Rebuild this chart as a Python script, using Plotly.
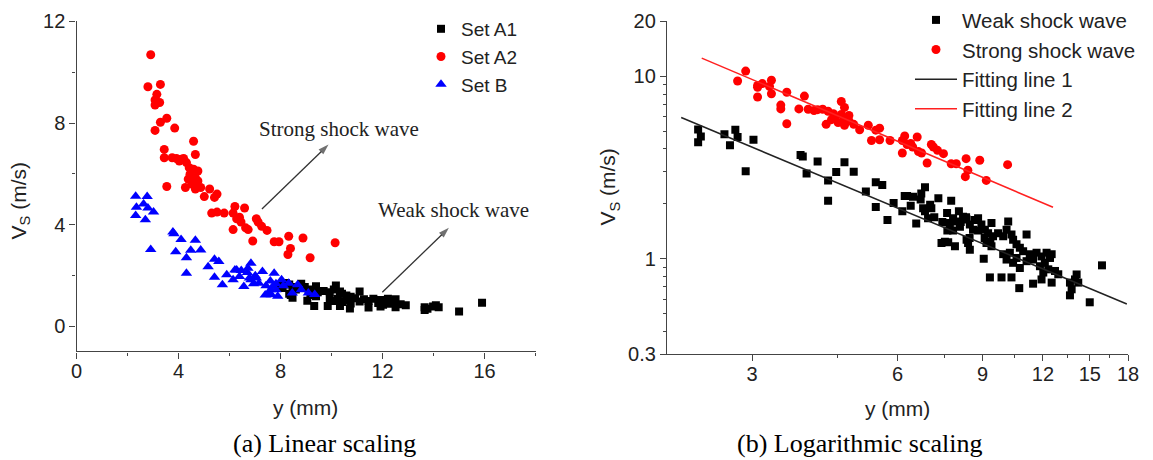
import plotly.graph_objects as go

# ---------------- data (y in mm, Vs in m/s) ----------------
# Set A1 : black squares (weak shock wave, far field)
a1_y = [7.95, 8.08, 8.20, 8.34, 8.34, 8.40, 8.47, 8.47, 8.60, 8.81, 8.95, 9.05, 9.10, 9.17, 9.24,
        9.32, 9.39, 9.39, 9.46, 9.69, 9.85, 9.93, 9.93, 10.09, 10.09, 10.17, 10.25, 10.33, 10.33,
        10.41, 10.41, 10.58, 10.58, 10.72, 10.75, 10.75, 10.92, 11.10, 11.10, 11.27, 11.45, 11.45,
        11.64, 11.83, 11.92, 11.92, 12.02, 12.11, 12.21, 12.31, 12.41, 12.51, 12.51, 12.71, 12.91,
        13.65, 13.76, 13.65, 13.98, 14.09, 14.20, 15.0, 15.9]
a1_v = [1.60, 1.50, 1.70, 1.64, 1.27, 1.22, 1.54, 1.12, 1.44, 1.67, 1.54, 1.00, 1.44, 1.22, 1.38,
        0.79, 1.57, 1.17, 1.33, 1.38, 0.79, 1.33, 1.06, 1.44, 0.99, 1.60, 1.08, 1.36, 0.79,
        1.27, 0.95, 1.20, 1.01, 0.69, 1.15, 0.89, 1.10, 1.36, 0.97, 1.06, 0.99, 0.73,
        1.08, 0.91, 1.03, 0.77, 0.84, 0.95, 1.08, 0.875, 1.01, 1.06, 0.74, 0.857, 0.822,
        0.74, 0.68, 0.63, 0.77, 0.82, 0.74, 0.577, 0.92]

# Set A2 : red circles (strong shock wave)
a2_y = [2.91, 2.80, 3.29, 3.15, 3.08, 3.26, 3.08, 3.29, 3.54, 3.08, 3.85, 3.44, 3.44, 4.59, 4.66,
        3.75, 3.92, 4.03, 4.20, 4.31, 4.42, 4.59, 4.76, 4.45, 4.66, 4.38, 4.76, 3.54, 4.27, 4.66,
        4.87, 5.01, 5.22, 5.41, 5.51, 5.30, 5.51, 5.79, 6.21, 6.59, 6.14, 6.39, 6.45, 6.14, 6.63,
        6.73, 7.05, 7.12, 7.26, 7.47, 6.91, 7.75, 7.94, 8.32, 8.39, 8.29, 8.88, 9.16, 10.14, 6.28,
        4.10, 4.52]
a2_v = [10.69, 9.43, 9.52, 9.13, 8.91, 8.81, 8.71, 8.03, 8.19, 7.71, 7.80, 6.96, 6.63, 7.28, 6.76,
        6.63, 6.60, 6.50, 6.60, 6.44, 6.24, 6.18, 6.11, 5.98, 5.85, 5.79, 5.72, 5.50, 5.46, 5.40,
        5.46, 5.10, 5.40, 5.07, 5.20, 4.45, 4.49, 4.45, 4.71, 4.65, 4.45, 4.29, 4.10, 3.80, 3.87,
        3.80, 4.23, 4.10, 3.93, 3.77, 3.35, 3.32, 3.32, 3.54, 3.06, 2.82, 3.47, 2.69, 3.28, 4.23,
        6.57, 5.59]

# Set B : blue triangles (weak shock wave, near field)
b_y = [2.32, 2.77, 2.63, 2.35, 2.80, 2.32, 2.70, 3.02, 2.91, 3.78, 3.82, 4.10, 3.89, 4.31, 4.31,
       4.48, 4.66, 4.87, 5.16, 5.41, 5.58, 5.41, 5.72, 5.89, 6.14, 6.28, 6.39, 6.56, 6.70, 6.84,
       6.84, 7.01, 7.29, 7.43, 7.52, 7.75, 7.82, 7.89, 8.11, 8.32, 8.46, 8.67, 8.81, 9.09, 9.34,
       6.21, 7.15, 8.04, 7.61, 6.46, 6.72, 6.78, 6.94, 7.05, 7.60, 7.70, 7.82, 7.40, 7.64]
b_v = [5.11, 5.10, 4.81, 4.68, 4.65, 4.36, 4.19, 4.49, 3.02, 3.71, 3.64, 3.41, 2.93, 2.69, 2.08,
       2.99, 3.38, 3.00, 2.34, 2.63, 2.54, 1.92, 1.63, 2.02, 1.82, 2.21, 1.95, 1.56, 2.11, 2.47,
       1.82, 1.98, 2.15, 1.59, 1.24, 2.08, 1.43, 1.17, 1.59, 1.69, 1.30, 1.63, 1.43, 1.30, 1.24,
       2.21, 1.69, 1.82, 1.43, 2.19, 2.28, 1.89, 1.67, 1.89, 1.78, 1.57, 1.67, 1.22, 1.23]

# Fitting lines (end points)
fit1_y = [2.14, 17.9]
fit1_v = [5.95, 0.565]
fit2_y = [2.36, 12.59]
fit2_v = [12.6, 1.915]

# Pointer arrows in panel (a): tail -> head
arrow_strong_y = [7.27, 9.88]
arrow_strong_v = [4.61, 7.15]
arrow_weak_y = [11.99, 14.6]
arrow_weak_v = [1.33, 3.87]

weak_y = a1_y + b_y
weak_v = a1_v + b_v

# ---------------- figure ----------------
W, H = 1153, 460
SANS = "Liberation Sans, Arial, sans-serif"
SERIF = "Liberation Serif, Times New Roman, serif"
TXT = "#222222"
AX = "#444444"

fig = go.Figure()

fig.add_trace(go.Scatter(x=a1_y, y=a1_v, mode="markers", name="Set A1",
                         marker=dict(symbol="square", size=8, color="black"),
                         xaxis="x", yaxis="y", legend="legend"))
fig.add_trace(go.Scatter(x=a2_y, y=a2_v, mode="markers", name="Set A2",
                         marker=dict(symbol="circle", size=9, color="#ff0000"),
                         xaxis="x", yaxis="y", legend="legend"))
fig.add_trace(go.Scatter(x=b_y, y=b_v, mode="markers", name="Set B",
                         marker=dict(symbol="triangle-up", size=10, color="#0000ff"),
                         xaxis="x", yaxis="y", legend="legend"))

for ax_, av_ in [(arrow_strong_y, arrow_strong_v), (arrow_weak_y, arrow_weak_v)]:
    fig.add_trace(go.Scatter(x=ax_, y=av_, mode="lines+markers", showlegend=False,
                             line=dict(color="#333333", width=1.3),
                             marker=dict(symbol="arrow", size=[0, 11], color="#333333",
                                         angleref="previous", line=dict(width=0)),
                             hoverinfo="skip", xaxis="x", yaxis="y"))

fig.add_trace(go.Scatter(x=weak_y, y=weak_v, mode="markers", name="Weak shock wave",
                         marker=dict(symbol="square", size=8, color="black"),
                         xaxis="x2", yaxis="y2", legend="legend2"))
fig.add_trace(go.Scatter(x=a2_y, y=a2_v, mode="markers", name="Strong shock wave",
                         marker=dict(symbol="circle", size=9, color="#ff0000"),
                         xaxis="x2", yaxis="y2", legend="legend2"))
fig.add_trace(go.Scatter(x=fit1_y, y=fit1_v, mode="lines", name="Fitting line 1",
                         line=dict(color="#222222", width=1.5),
                         xaxis="x2", yaxis="y2", legend="legend2"))
fig.add_trace(go.Scatter(x=fit2_y, y=fit2_v, mode="lines", name="Fitting line 2",
                         line=dict(color="#ff2020", width=1.5),
                         xaxis="x2", yaxis="y2", legend="legend2"))

axis_common = dict(showline=True, linecolor=AX, linewidth=1.3, mirror=False,
                   showgrid=False, zeroline=False, ticks="outside", ticklen=6,
                   tickwidth=1.2, tickcolor=AX, automargin=False,
                   tickfont=dict(family=SANS, size=20, color=TXT))

fig.update_layout(
    width=W, height=H,
    margin=dict(l=0, r=0, t=0, b=0),
    paper_bgcolor="white", plot_bgcolor="white",
    xaxis=dict(domain=[76.5 / W, 535.6 / W], range=[0, 18], tick0=0, dtick=4,
               minor=dict(dtick=2, ticks="outside", ticklen=3, tickcolor=AX),
               ticklabelstandoff=-5, anchor="y", **axis_common),
    yaxis=dict(domain=[1 - 350 / H, 1 - 15.7 / H], range=[-1, 12], tick0=0, dtick=4,
               minor=dict(tick0=0, dtick=2, ticks="outside", ticklen=3, tickcolor=AX),
               anchor="x", **axis_common),
    xaxis2=dict(domain=[667 / W, 1128 / W], type="log", range=[0.30103, 1.25527],
                tickmode="array", tickvals=[3, 6, 9, 12, 15, 18],
                ticktext=["3", "6", "9", "12", "15", "18"],
                minor=dict(tickmode="array", tickvals=[4.5, 7.5, 10.5, 13.5, 16.5],
                           ticks="outside", ticklen=3, tickcolor=AX),
                ticklabelstandoff=-4, anchor="y2", **axis_common),
    yaxis2=dict(domain=[1 - 352.7 / H, 1 - 15.7 / H], type="log", range=[-0.52288, 1.30103],
                tickmode="array", tickvals=[0.3, 1, 10, 20], ticktext=["0.3", "1", "10", "20"],
                minor=dict(tickmode="array",
                           tickvals=[0.4, 0.5, 0.6, 0.7, 0.8, 0.9, 2, 3, 4, 5, 6, 7, 8, 9],
                           ticks="outside", ticklen=3, tickcolor=AX),
                anchor="x2", **axis_common),
    legend=dict(x=421 / W, y=1 - 4 / H, xanchor="left", yanchor="top",
                bgcolor="rgba(0,0,0,0)", font=dict(family=SANS, size=19, color=TXT),
                itemwidth=30),
    legend2=dict(x=910 / W, y=1 + 6 / H, xanchor="left", yanchor="top",
                 bgcolor="rgba(0,0,0,0)", font=dict(family=SANS, size=20.5, color=TXT),
                 itemwidth=42),
    showlegend=True,
)

ann = []
# axis titles
ann.append(dict(text="V<sub>S</sub> (m/s)", x=20 / W, y=1 - 198 / H, xref="paper", yref="paper",
                xanchor="center", yanchor="middle",
                textangle=-90, showarrow=False, font=dict(family=SANS, size=21, color=TXT)))
ann.append(dict(text="V<sub>S</sub> (m/s)", x=609 / W, y=1 - 184 / H, xref="paper", yref="paper",
                xanchor="center", yanchor="middle",
                textangle=-90, showarrow=False, font=dict(family=SANS, size=21, color=TXT)))
ann.append(dict(text="y (mm)", x=305.5 / W, y=1 - 407 / H, xref="paper", yref="paper",
                xanchor="center", yanchor="middle",
                showarrow=False, font=dict(family=SANS, size=21, color=TXT)))
ann.append(dict(text="y (mm)", x=897 / W, y=1 - 408 / H, xref="paper", yref="paper",
                xanchor="center", yanchor="middle",
                showarrow=False, font=dict(family=SANS, size=21, color=TXT)))
# captions
ann.append(dict(text="(a) Linear scaling", x=324.5 / W, y=1 - 443 / H, xref="paper", yref="paper",
                xanchor="center", yanchor="middle",
                showarrow=False, font=dict(family=SERIF, size=26, color="black")))
ann.append(dict(text="(b) Logarithmic scaling", x=859 / W, y=1 - 443 / H, xref="paper", yref="paper",
                xanchor="center", yanchor="middle",
                showarrow=False, font=dict(family=SERIF, size=26, color="black")))
# in-plot labels
ann.append(dict(text="Strong shock wave", x=10.29, y=7.75, xref="x", yref="y",
                xanchor="center", yanchor="middle",
                showarrow=False, font=dict(family=SERIF, size=21, color=TXT)))
ann.append(dict(text="Weak shock wave", x=14.79, y=4.57, xref="x", yref="y",
                xanchor="center", yanchor="middle",
                showarrow=False, font=dict(family=SERIF, size=21, color=TXT)))
fig.update_layout(annotations=ann)

fig.write_html("out.html")
